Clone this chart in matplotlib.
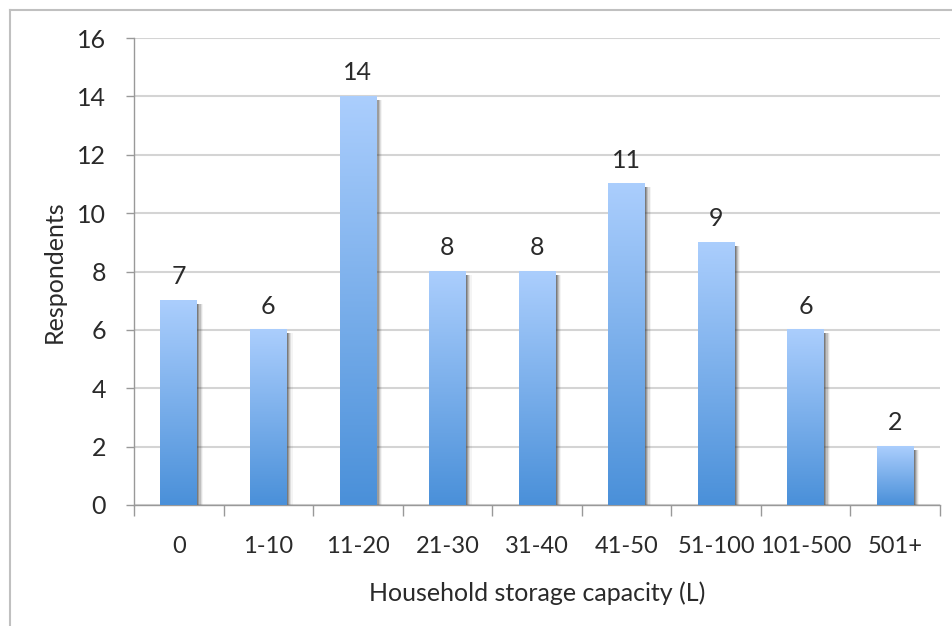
import numpy as np
import matplotlib.pyplot as plt
from matplotlib.colors import LinearSegmentedColormap
from matplotlib.lines import Line2D

categories = ['0', '1-10', '11-20', '21-30', '31-40', '41-50', '51-100', '101-500', '501+']
respondents = [7, 6, 14, 8, 8, 11, 9, 6, 2]
y_ticks = list(range(0, 17, 2))

plt.rcParams['font.family'] = ['Lato', 'DejaVu Sans']

fig = plt.figure(figsize=(9.52, 6.26), dpi=100)
ax = fig.add_axes([134 / 952, 1 - 505 / 626, 806 / 952, 467 / 626])

grad = LinearSegmentedColormap.from_list('bar', ['#4a90d9', '#abcefd'])
ramp = np.linspace(0, 1, 256).reshape(-1, 1)
width = 0.41
x = np.arange(len(categories))
txt = '#2a2a2a'

for xi, val in zip(x, respondents):
    left = xi - width / 2
    # soft shadow on the right edge
    for k, a in enumerate([0.38, 0.28, 0.19, 0.12, 0.06]):
        off = 0.013 * (k + 1)
        ax.add_patch(plt.Rectangle((left + width, 0), off, val - 0.12,
                                   color='#444444', alpha=a, lw=0, zorder=2))
    ax.imshow(ramp, cmap=grad, aspect='auto',
              extent=(left, left + width, 0, val), origin='lower', zorder=3)
    ax.text(xi, val + 0.42, str(val), ha='center', va='bottom',
            fontsize=18, color=txt)

ax.set_xlim(-0.5, len(categories) - 0.5)
ax.set_ylim(0, 16)
ax.set_yticks(y_ticks)
ax.set_xticks(x)
ax.set_xticklabels(categories)
ax.set_xticks(np.arange(-0.5, len(categories)), minor=True)
ax.tick_params(axis='x', which='major', length=0, pad=22, labelsize=17, colors=txt)
ax.tick_params(axis='x', which='minor', length=8, width=1, color='#999999', direction='out')
ax.tick_params(axis='y', length=6, width=1, color='#999999', pad=14, labelsize=18, labelcolor=txt)

ax.grid(axis='y', color='#d4d4d4', linewidth=1.5, zorder=0)
ax.set_axisbelow(True)
for s in ['top', 'right']:
    ax.spines[s].set_visible(False)
for s in ['left', 'bottom']:
    ax.spines[s].set_color('#999999')
    ax.spines[s].set_linewidth(1)

ax.set_xlabel('Household storage capacity (L)', fontsize=18, color=txt, labelpad=18)
ax.set_ylabel('Respondents', fontsize=18, color=txt, labelpad=8)

# outer frame (top and left edges only)
fig.add_artist(Line2D([10 / 952, 1], [1 - 10 / 626, 1 - 10 / 626], color='#c0c0c0', lw=1.5))
fig.add_artist(Line2D([10 / 952, 10 / 952], [0, 1 - 10 / 626], color='#c0c0c0', lw=1.5))

fig.savefig('out.png', dpi=100)
